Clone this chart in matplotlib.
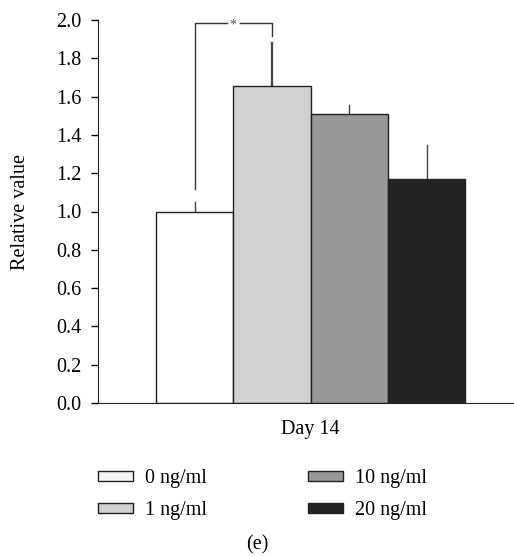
import matplotlib
matplotlib.use("Agg")
import matplotlib.pyplot as plt
from matplotlib.patches import Patch

# ---------- DATA ----------
groups = ["0 ng/ml", "1 ng/ml", "10 ng/ml", "20 ng/ml"]
values = [1.00, 1.655, 1.51, 1.17]
errors = [0.05, 0.225, 0.045, 0.175]
colors = ["#ffffff", "#d0d2d1", "#989898", "#232323"]
positions = [-1.5, -0.5, 0.5, 1.5]
yticks = [0.0, 0.2, 0.4, 0.6, 0.8, 1.0, 1.2, 1.4, 1.6, 1.8, 2.0]

# significance bracket (between 0 and 1 ng/ml)
sig_left_bottom = 1.117
sig_right_bottom = 1.917
sig_top = 1.985

plt.rcParams["font.family"] = ["Liberation Serif", "DejaVu Serif"]
FS = 14.5

fig = plt.figure(figsize=(5.14, 5.56), dpi=100)
ax = fig.add_axes([98 / 514, 1 - 403 / 556, 1 - 98 / 514, (403 - 20) / 556])

ax.bar(positions, values, width=1.0, color=colors, edgecolor="#222222",
       linewidth=1.0, zorder=2)
for x, v, e in zip(positions, values, errors):
    lw = 1.6 if e > 0.2 else 1.0
    ax.plot([x, x], [v, v + e], color="#444444", lw=lw, zorder=1)

# bracket
xl, xr = positions[0], positions[1]
ax.plot([xl, xl, xl + 0.42], [sig_left_bottom, sig_top, sig_top],
        color="#333333", lw=1.0, clip_on=False)
ax.plot([xr - 0.42, xr, xr], [sig_top, sig_top, sig_right_bottom],
        color="#333333", lw=1.0, clip_on=False)
ax.text((xl + xr) / 2, sig_top - 0.01, "*", ha="center", va="center",
        fontsize=10, color="#555555")

ax.set_xlim(-2.75, 2.63)
ax.set_ylim(0, 2.0)
ax.set_yticks(yticks)
ax.set_yticklabels([f"{t:.1f}" for t in yticks], fontsize=FS)
ax.set_xticks([0])
ax.set_xticklabels(["Day 14"], fontsize=FS)
ax.tick_params(axis="x", length=0, pad=12)
ax.tick_params(axis="y", direction="out", length=5, width=1, pad=7)
ax.spines["top"].set_visible(False)
ax.spines["right"].set_visible(False)
ax.spines["left"].set_color("#222222")
ax.spines["bottom"].set_color("#222222")
ax.set_ylabel("Relative value", fontsize=FS)
ax.yaxis.set_label_coords(-(98 - 30) / 416, 0.5)

handles = [Patch(facecolor=c if c != "#ffffff" else "#f4f4f4",
                 edgecolor="#222222", linewidth=1.0) for c in colors]
fig.legend(handles, groups, ncol=2, frameon=False, loc="upper left",
           bbox_to_anchor=(88 / 514, 1 - 459 / 556), fontsize=FS,
           handlelength=1.74, handleheight=0.4, handletextpad=0.6,
           columnspacing=5.0, labelspacing=0.65, borderpad=0)

fig.text(0.5, 1 - 545 / 556, "(e)", ha="center", va="center", fontsize=FS)

fig.savefig("out.png", dpi=100)
